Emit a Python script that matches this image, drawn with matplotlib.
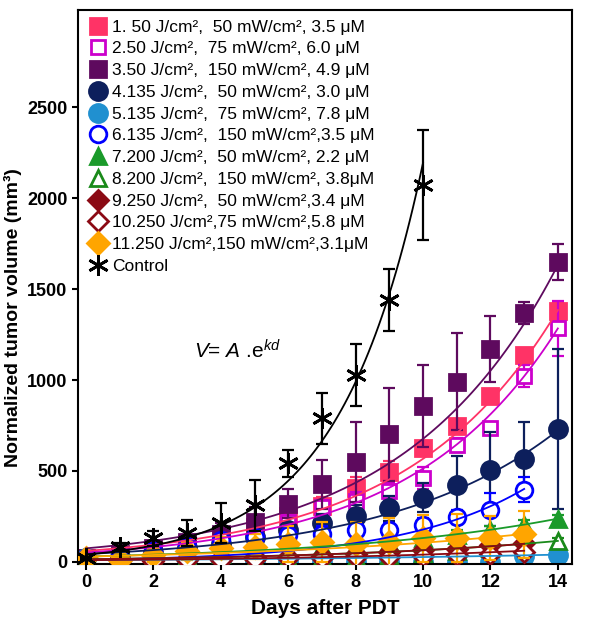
import matplotlib
matplotlib.use('Agg')
import matplotlib.pyplot as plt
from matplotlib.lines import Line2D
import numpy as np

plt.rcParams['font.family'] = ['Liberation Sans', 'DejaVu Sans']
plt.rcParams['mathtext.fontset'] = 'custom'
plt.rcParams['mathtext.rm'] = 'Liberation Sans'
plt.rcParams['mathtext.it'] = 'Liberation Sans:italic'

# Data (normalized tumor volume, mm^3)
days = np.arange(15)

labels = [
    '1. 50 J/cm²,  50 mW/cm², 3.5 μM',
    '2.50 J/cm²,  75 mW/cm², 6.0 μM',
    '3.50 J/cm²,  150 mW/cm², 4.9 μM',
    '4.135 J/cm²,  50 mW/cm², 3.0 μM',
    '5.135 J/cm²,  75 mW/cm², 7.8 μM',
    '6.135 J/cm²,  150 mW/cm²,3.5 μM',
    '7.200 J/cm²,  50 mW/cm², 2.2 μM',
    '8.200 J/cm²,  150 mW/cm², 3.8μM',
    '9.250 J/cm²,  50 mW/cm²,3.4 μM',
    '10.250 J/cm²,75 mW/cm²,5.8 μM',
    '11.250 J/cm²,150 mW/cm²,3.1μM',
]

s1 = [20, 35, 65, 100, 140, 190, 250, 306, 407, 495, 624, 749, 912, 1138, 1380]
s1_err = [5, 15, 20, 30, 35, 40, 50, 50, 60, 60, 40, 30, 30, 40, 50]
s2 = [20, 30, 55, 85, 120, 160, 220, 300, 336, 390, 462, 642, 734, 1022, 1284]
s2_err = [5, 10, 15, 20, 30, 40, 40, 40, 50, 50, 60, 40, 30, 60, 150]
s3 = [20, 45, 75, 110, 155, 220, 321, 426, 547, 701, 857, 991, 1169, 1367, 1650]
s3_err = [5, 20, 30, 40, 60, 80, 80, 135, 220, 255, 225, 265, 180, 60, 100]
s4 = [20, 25, 50, 75, 100, 135, 174, 215, 251, 294, 352, 422, 505, 565, 730]
s4_err = [5, 10, 15, 20, 25, 30, 40, 50, 60, 70, 80, 160, 210, 205, 440]
s5 = [20, 0, 0, 0, 0, 0, 0, 0, 0, 0, 0, 0, 0, 35, 40]
s5_err = [5, 5, 5, 5, 5, 5, 5, 5, 5, 5, 5, 5, 5, 15, 10]
s6 = [20, 30, 60, 90, 120, 140, 150, 156, 174, 174, 202, 248, 288, 398]
s6_err = [5, 15, 20, 25, 30, 30, 30, 40, 40, 40, 40, 40, 90, 70]
s7 = [20, 20, 25, 35, 45, 55, 65, 80, 95, 110, 130, 150, 175, 205, 238]
s7_err = [5, 10, 10, 10, 15, 15, 15, 20, 20, 20, 20, 25, 25, 25, 20]
s8 = [20, 5, 5, 10, 10, 15, 20, 25, 30, 40, 50, 60, 75, 90, 116]
s8_err = [5, 5, 5, 5, 5, 10, 10, 10, 10, 10, 10, 15, 15, 15, 15]
s9 = [20, 10, 10, 15, 20, 25, 30, 35, 45, 55, 64, 73, 92, 105]
s9_err = [5, 10, 10, 10, 15, 15, 20, 20, 25, 25, 30, 30, 30, 30]
s10 = [20, 5, 5, 10, 10, 15, 20, 20, 25, 30, 35, 40, 45, 55]
s10_err = [5, 5, 5, 5, 10, 10, 10, 10, 15, 15, 15, 15, 15, 15]
s11 = [20, 10, 40, 60, 75, 85, 100, 110, 100, 110, 130, 132, 130, 152]
s11_err = [5, 20, 40, 50, 60, 70, 100, 110, 120, 130, 130, 130, 120, 130]
control = [20, 82, 130, 160, 215, 313, 543, 790, 1027, 1440, 2071]
control_err = [5, 20, 40, 70, 110, 140, 75, 140, 170, 170, 300]

# exponential fit parameters V = A*exp(k*d)
fit_A = [61, 52, 75, 44, 10, 12, 30, 15, 15, 10, 30]
fit_k = [0.223, 0.229, 0.22, 0.2, 0.1, 0.27, 0.148, 0.146, 0.146, 0.14, 0.126]
control_A, control_k = 41, 0.398

series = [s1, s2, s3, s4, s5, s6, s7, s8, s9, s10, s11]
errors = [s1_err, s2_err, s3_err, s4_err, s5_err, s6_err, s7_err, s8_err,
          s9_err, s10_err, s11_err]
colors = ['#FF3366', '#CC00CC', '#5E0A5E', '#0D1F5C', '#2090D0', '#0000FF',
          '#1A9A2A', '#1A8A1A', '#8B0A14', '#8B0A14', '#FFA500']
markers = ['s', 's', 's', 'o', 'o', 'o', '^', '^', 'D', 'D', 'D']
filled = [True, False, True, True, True, False, True, False, True, False, True]
msizes = [11, 10, 11, 13, 13, 12, 12, 11, 10, 10, 11]

fig = plt.figure(figsize=(6.05, 6.31), dpi=100)
ax = fig.add_axes([78 / 605, 1 - 564 / 631, 494 / 605, 554 / 631])

handles = []
for i in range(len(series)):
    y = np.array(series[i])
    d = days[:len(y)]
    c = colors[i]
    fc = c if filled[i] else 'white'
    ax.errorbar(d, y, yerr=errors[i], fmt='none', ecolor=c, elinewidth=1.6,
                capsize=4, capthick=1.6, zorder=2 + i * 0.1)
    ax.plot(d, y, linestyle='none', marker=markers[i], ms=msizes[i],
            mfc=fc, mec=c, mew=2, zorder=2.05 + i * 0.1)
    dd = np.linspace(0, d[-1], 100)
    ax.plot(dd, fit_A[i] * np.exp(fit_k[i] * dd), color=c, lw=1.3,
            zorder=3.5)
    handles.append(Line2D([], [], linestyle='none', marker=markers[i],
                          ms=msizes[i], mfc=fc, mec=c, mew=2))

dc = days[:len(control)]
ax.errorbar(dc, control, yerr=control_err, fmt='none', ecolor='black',
            elinewidth=1.6, capsize=4, capthick=1.6, zorder=4)
ax.plot(dc, control, linestyle='none', marker=(6, 2, 0), ms=15, mec='black',
        mew=2, zorder=4.1)
dd = np.linspace(0, 10, 100)
ax.plot(dd, control_A * np.exp(control_k * dd), color='black', lw=1.3,
        zorder=4)
handles.append(Line2D([], [], linestyle='none', marker=(6, 2, 0), ms=15,
                      mec='black', mew=2))

ax.legend(handles, labels + ['Control'], loc='upper left', frameon=False,
          fontsize=12.5, handletextpad=0.2, labelspacing=0.38,
          borderaxespad=0.15, handlelength=1.2, bbox_to_anchor=(0.0, 1.0))

ax.text(3.2, 1160, r'$V$= $A$ .e$^{kd}$', fontsize=15, va='center')

ax.set_xlim(-0.24, 14.42)
ax.set_ylim(-11, 3033)
ax.set_xticks(range(0, 15, 2))
ax.set_yticks(range(0, 2501, 500))
ax.tick_params(labelsize=13, width=1.5, length=4, direction='out')
for lab in ax.get_xticklabels() + ax.get_yticklabels():
    lab.set_fontweight('bold')
for sp in ax.spines.values():
    sp.set_linewidth(1.5)

ax.set_xlabel('Days after PDT', fontsize=15, fontweight='bold')
ax.set_ylabel('Normalized tumor volume (mm³)', fontsize=14, fontweight='bold')
ax.xaxis.set_label_coords(0.5, -0.063)
ax.yaxis.set_label_coords(-0.113, 0.444)

plt.savefig('out.png', dpi=100)
